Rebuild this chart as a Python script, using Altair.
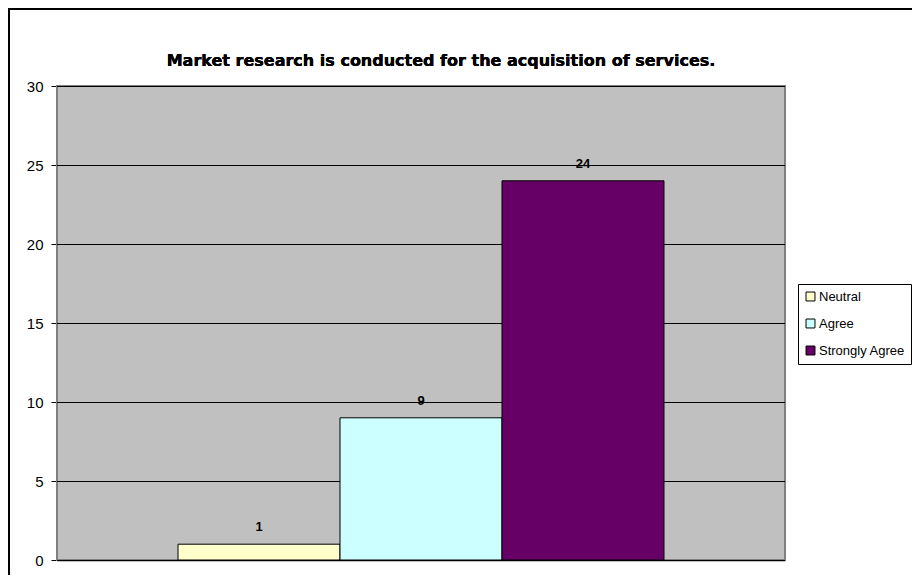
import altair as alt
import pandas as pd

categories = ["Neutral", "Agree", "Strongly Agree"]
values = [1, 9, 24]
colors = ["#FFFFCC", "#CCFFFF", "#660066"]
y_ticks = [0, 5, 10, 15, 20, 25, 30]
title_text = "Market research is conducted for the acquisition of services."

df = pd.DataFrame({"category": categories, "value": values})
grid_df = pd.DataFrame({"tick": y_ticks})

FONT = "Liberation Sans"
W, H = 728, 474

y_scale = alt.Scale(domain=[0, 30], nice=False)
y_axis = alt.Axis(
    values=y_ticks, title=None, grid=False,
    domainColor="#000000", tickColor="#000000", tickSize=6, labelPadding=8,
    labelFont=FONT, labelFontSize=15, labelColor="#000000",
)

x_enc = alt.X(
    "category:N",
    sort=categories,
    scale=alt.Scale(paddingInner=0, paddingOuter=0.747),
    axis=alt.Axis(labels=False, ticks=False, title=None, domainColor="#808080", domainWidth=2),
)

frame = alt.Chart(df).mark_rect(filled=False, stroke="#000000", strokeWidth=2).encode(
    x=alt.value(-48), x2=alt.value(W + 300), y=alt.value(-77), y2=alt.value(H + 200)
)

plot_bg = alt.Chart(df).mark_rect(fill="#C0C0C0", stroke="#808080", strokeWidth=2).encode(
    x=alt.value(0), x2=alt.value(W), y=alt.value(0), y2=alt.value(H)
)

gridlines = alt.Chart(grid_df).mark_rule(color="#000000", strokeWidth=1, yOffset=0.5).encode(
    y=alt.Y("tick:Q", scale=y_scale, axis=y_axis)
)

title = alt.Chart(df).mark_text(
    text=title_text, font="DejaVu Sans", fontSize=16, fontWeight="bold", color="#000000",
    align="center", baseline="middle",
).encode(x=alt.value(W / 2 + 20), y=alt.value(-25))

bars = alt.Chart(df).mark_bar(stroke="#000000", strokeWidth=1).encode(
    x=x_enc,
    y=alt.Y("value:Q", scale=y_scale, axis=y_axis),
    color=alt.Color(
        "category:N",
        sort=categories,
        scale=alt.Scale(domain=categories, range=colors),
        legend=alt.Legend(
            title=None, orient="none", legendX=741, legendY=198,
            symbolType="square", symbolSize=80, symbolStrokeColor="#000000",
            symbolStrokeWidth=1, labelFont=FONT, labelFontSize=13,
            labelColor="#000000", rowPadding=13, padding=6,
            strokeColor="#000000", fillColor="#FFFFFF", labelOffset=2,
        ),
    ),
)

labels = alt.Chart(df).mark_text(
    dy=-17, font=FONT, fontSize=13, fontWeight="bold", color="#000000"
).encode(x=alt.X("category:N", sort=categories), y=alt.Y("value:Q", scale=y_scale), text="value:Q")

chart = (
    alt.layer(frame, plot_bg, gridlines, bars, labels, title)
    .properties(
        width=W,
        height=H,
        autosize=alt.AutoSizeParams(type="none"),
        padding={"left": 49, "top": 78, "right": 127, "bottom": 15},
    )
    .configure_view(stroke=None)
    .configure(background="#FFFFFF")
)

chart.save("out.html", embed_options={"renderer": "svg", "actions": False})
